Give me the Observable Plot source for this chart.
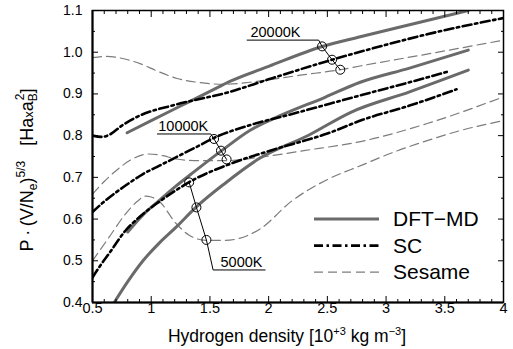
<!DOCTYPE html>
<html><head><meta charset="utf-8">
<script src="https://cdn.jsdelivr.net/npm/d3@7"></script>
<script src="https://cdn.jsdelivr.net/npm/@observablehq/plot@0.6"></script>
<style>body{margin:0;background:#fff;} svg{display:block;}</style>
</head><body><div id="chart"></div>
<script>
// ---- tick values and labels ----
const xTickValues = [0.5, 1, 1.5, 2, 2.5, 3, 3.5, 4];
const xTickLabels = ["0.5", "1", "1.5", "2", "2.5", "3", "3.5", "4"];
const yTickValues = [0.4, 0.5, 0.6, 0.7, 0.8, 0.9, 1.0, 1.1];
const yTickLabels = ["0.4", "0.5", "0.6", "0.7", "0.8", "0.9", "1.0", "1.1"];
const xMinorTicks = [0.6,0.7,0.8,0.9,1.1,1.2,1.3,1.4,1.6,1.7,1.8,1.9,2.1,2.2,2.3,2.4,2.6,2.7,2.8,2.9,3.1,3.2,3.3,3.4,3.6,3.7,3.8,3.9];
const yMinorTicks = [0.45, 0.55, 0.65, 0.75, 0.85, 0.95, 1.05];

// ---- series: [density, P(V/Ne)^5/3] ----
const dft20000 = [[0.795,0.807],[1.0,0.836],[1.25,0.871],[1.5,0.906],[1.67,0.93],[2.0,0.966],[2.45,1.013],[2.78,1.037],[3.2,1.066],[3.7,1.10]];
const dft10000 = [[0.8,0.569],[0.93,0.61],[1.07,0.645],[1.21,0.679],[1.35,0.71],[1.6,0.764],[1.85,0.814],[2.06,0.843],[2.48,0.892],[2.78,0.928],[3.2,0.962],[3.7,1.005]];
const dft5000  = [[0.685,0.40],[0.8,0.45],[0.93,0.50],[1.07,0.543],[1.21,0.58],[1.38,0.628],[1.63,0.686],[1.92,0.745],[2.34,0.801],[2.7,0.856],[3.2,0.905],[3.7,0.957]];

const sc20000 = [[0.5,0.80],[0.58,0.797],[0.65,0.803],[0.75,0.824],[0.91,0.849],[1.19,0.873],[1.67,0.905],[2.0,0.935],[2.54,0.982],[2.78,1.001],[3.35,1.043],[4.0,1.082]];
const sc10000 = [[0.5,0.617],[0.6,0.642],[0.7,0.664],[0.8,0.684],[0.93,0.708],[1.07,0.728],[1.21,0.748],[1.4,0.775],[1.53,0.794],[1.85,0.826],[2.2,0.852],[2.8,0.898],[3.2,0.928],[3.52,0.953]];
const sc5000  = [[0.5,0.46],[0.57,0.49],[0.64,0.517],[0.78,0.572],[0.9,0.605],[1.07,0.642],[1.2,0.667],[1.32,0.688],[1.66,0.731],[2.06,0.768],[2.5,0.805],[2.8,0.838],[3.2,0.872],[3.6,0.911]];

const ses20000 = [[0.5,0.987],[0.62,0.99],[0.8,0.982],[0.91,0.972],[1.05,0.955],[1.22,0.937],[1.42,0.927],[1.62,0.923],[1.9,0.93],[2.27,0.945],[2.61,0.958],[2.78,0.967],[3.4,0.998],[4.0,1.029]];
const ses10000 = [[0.5,0.66],[0.6,0.69],[0.7,0.716],[0.84,0.744],[0.97,0.756],[1.1,0.752],[1.21,0.744],[1.4,0.74],[1.63,0.74],[1.92,0.748],[2.3,0.764],[2.82,0.788],[3.35,0.829],[4.0,0.893]];
const ses5000  = [[0.5,0.50],[0.64,0.556],[0.78,0.612],[0.88,0.642],[0.95,0.655],[1.0,0.653],[1.07,0.642],[1.21,0.59],[1.32,0.562],[1.47,0.549],[1.63,0.549],[1.92,0.575],[2.2,0.644],[2.48,0.692],[2.8,0.73],[3.06,0.76],[3.35,0.788],[3.63,0.812],[4.0,0.836]];

// ---- isochore markers and label leaders ----
const iso20000 = [[1.817,1.029],[2.426,1.029],[2.455,1.014],[2.54,0.982],[2.61,0.958]];
const iso10000 = [[1.053,0.804],[1.507,0.804],[1.535,0.792],[1.594,0.764],[1.642,0.743]];
const iso5000  = [[1.323,0.688],[1.385,0.628],[1.47,0.55],[1.527,0.478],[1.97,0.478]];
const circles20000 = [[2.455,1.014],[2.54,0.982],[2.61,0.958]];
const circles10000 = [[1.535,0.792],[1.594,0.764],[1.642,0.743]];
const circles5000  = [[1.323,0.688],[1.385,0.628],[1.47,0.55]];
const tempLabels = ["20000K", "10000K", "5000K"];
const tempLabelX = [1.845, 1.06, 1.59];
const tempLabelY = [1.029, 0.804, 0.478];

const legendLabels = ["DFT\u2212MD", "SC", "Sesame"];

// ---- build tables ----
const rowsOf = (model, temp, pts) => pts.map(([x, y]) => ({model, temp, x, y}));
const dftRows = [...rowsOf("DFT-MD","20000K",dft20000), ...rowsOf("DFT-MD","10000K",dft10000), ...rowsOf("DFT-MD","5000K",dft5000)];
const scRows = [...rowsOf("SC","20000K",sc20000), ...rowsOf("SC","10000K",sc10000), ...rowsOf("SC","5000K",sc5000)];
const sesRows = [...rowsOf("Sesame","20000K",ses20000), ...rowsOf("Sesame","10000K",ses10000), ...rowsOf("Sesame","5000K",ses5000)];
const isoRows = [...rowsOf("iso","20000K",iso20000), ...rowsOf("iso","10000K",iso10000), ...rowsOf("iso","5000K",iso5000)];
const circleRows = [...rowsOf("c","20000K",circles20000), ...rowsOf("c","10000K",circles10000), ...rowsOf("c","5000K",circles5000)];
const labelRows = tempLabels.map((t, i) => ({text: t, x: tempLabelX[i], y: tempLabelY[i]}));

const FONT = "'Liberation Sans', Arial, Helvetica, sans-serif";
const DFT_COLOR = "#6a6a6a", SES_COLOR = "#7c7c7c";
const SC_DASH = "9,3.5,2.5,3.5", SES_DASH = "9,5";

const plot = Plot.plot({
  width: 513, height: 349,
  marginLeft: 92, marginRight: 10, marginTop: 10, marginBottom: 47,
  x: {domain: [0.5, 4]},
  y: {domain: [0.4, 1.1]},
  style: {fontFamily: FONT, fontSize: "14px", color: "black", background: "white"},
  marks: [
    Plot.line(sesRows, {x: "x", y: "y", z: "temp", stroke: SES_COLOR, strokeWidth: 1.2, strokeDasharray: SES_DASH, curve: "monotone-x", clip: true}),
    Plot.line(dftRows, {x: "x", y: "y", z: "temp", stroke: DFT_COLOR, strokeWidth: 3, curve: "monotone-x", clip: true}),
    Plot.line(scRows, {x: "x", y: "y", z: "temp", stroke: "black", strokeWidth: 2.6, strokeDasharray: SC_DASH, curve: "monotone-x", clip: true}),
    Plot.line(isoRows, {x: "x", y: "y", z: "temp", stroke: "black", strokeWidth: 1}),
    Plot.dot(circleRows, {x: "x", y: "y", r: 4.5, stroke: "black", strokeWidth: 1, fill: "none"}),
    Plot.text(labelRows, {x: "x", y: "y", text: "text", textAnchor: "start", lineAnchor: "bottom", dy: -3, fontSize: 14.5}),
    Plot.frame({strokeWidth: 1.5}),
    Plot.ruleX([0.5], {strokeWidth: 2}),
    Plot.ruleY([0.4], {strokeWidth: 2}),
    Plot.axisX(xTickValues, {anchor: "bottom", tickSize: -6, tickPadding: 6, fontSize: 14.5, label: null,
      tickFormat: d => xTickLabels[xTickValues.indexOf(d)]}),
    Plot.axisX(xMinorTicks, {anchor: "bottom", tickSize: -3, fill: "none", label: null}),
    Plot.axisX(xTickValues, {anchor: "top", tickSize: -6, fill: "none", label: null}),
    Plot.axisX(xMinorTicks, {anchor: "top", tickSize: -3, fill: "none", label: null}),
    Plot.axisY(yTickValues, {anchor: "left", tickSize: -6, tickPadding: 16, fontSize: 14, label: null,
      tickFormat: d => yTickLabels[yTickValues.indexOf(d)]}),
    Plot.axisY(yMinorTicks, {anchor: "left", tickSize: -3, fill: "none", label: null}),
    Plot.axisY(yTickValues, {anchor: "right", tickSize: -6, fill: "none", label: null}),
    Plot.axisY(yMinorTicks, {anchor: "right", tickSize: -3, fill: "none", label: null})
  ]
});
document.getElementById("chart").appendChild(plot);

const svg = d3.select(plot);

// legend
const legendStyles = [
  {stroke: DFT_COLOR, width: 3, dash: null},
  {stroke: "black", width: 2.6, dash: SC_DASH},
  {stroke: SES_COLOR, width: 1.2, dash: SES_DASH}
];
const lg = svg.append("g").attr("font-family", FONT).attr("font-size", 21).attr("text-anchor", "start");
legendLabels.forEach((lab, i) => {
  const cy = 219 + 26.6 * i;
  const st = legendStyles[i];
  lg.append("line").attr("x1", 314).attr("x2", 379).attr("y1", cy).attr("y2", cy)
    .attr("stroke", st.stroke).attr("stroke-width", st.width).attr("stroke-dasharray", st.dash);
  lg.append("text").attr("x", 393).attr("y", cy + 7).attr("text-anchor", "start").text(lab);
});

// x title
const xt = svg.append("text").attr("x", 287).attr("y", 342).attr("text-anchor", "middle")
  .attr("font-family", FONT).attr("font-size", 17.5);
xt.append("tspan").text("Hydrogen density [10");
xt.append("tspan").attr("dy", -7).attr("font-size", 11).text("+3");
xt.append("tspan").attr("dy", 7).text(" kg m");
xt.append("tspan").attr("dy", -7).attr("font-size", 11).text("\u22123");
xt.append("tspan").attr("dy", 7).text("]");

// y title
const yt = svg.append("text").attr("transform", "translate(33,170) rotate(-90)").attr("text-anchor", "middle")
  .attr("font-family", FONT).attr("font-size", 18);
yt.append("tspan").text("P\u2009\u00b7\u2009(V/N");
yt.append("tspan").attr("dy", 4).attr("font-size", 12).text("e");
yt.append("tspan").attr("dy", -4).text(")");
yt.append("tspan").attr("dy", -8).attr("font-size", 12).text("5/3");
yt.append("tspan").attr("dy", 8).text("\u00a0\u00a0\u00a0[Ha");
yt.append("tspan").attr("font-size", 13).text("x");
yt.append("tspan").text("a");
yt.append("tspan").attr("dy", 4).attr("font-size", 12).text("B");
yt.append("tspan").attr("dy", -13).attr("dx", -7).attr("font-size", 12).text("2");
yt.append("tspan").attr("dy", 9).text("]");
</script>
</body></html>
